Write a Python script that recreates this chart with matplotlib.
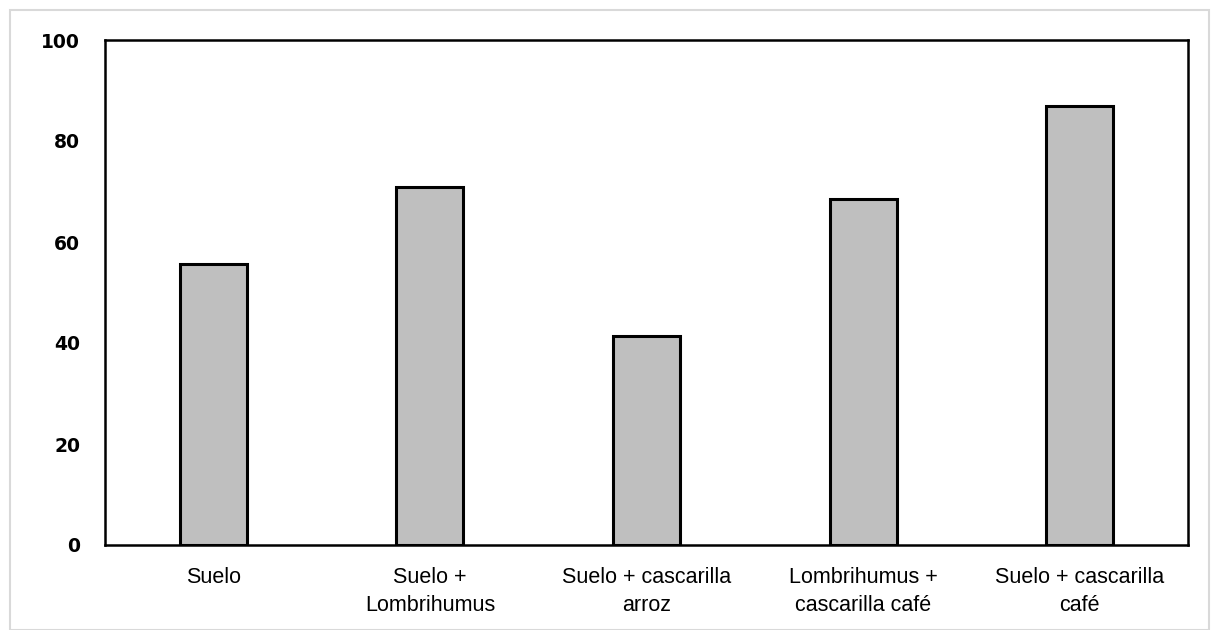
import matplotlib
matplotlib.use("Agg")
import matplotlib.pyplot as plt
from matplotlib.patches import Rectangle

categories = ["Suelo", "Suelo +\nLombrihumus", "Suelo + cascarilla\narroz",
              "Lombrihumus +\ncascarilla café", "Suelo + cascarilla\ncafé"]
values = [55.7, 70.9, 41.3, 68.6, 86.9]
yticks = [0, 20, 40, 60, 80, 100]

fig = plt.figure(figsize=(12.11, 6.30), dpi=100)
fig.patches.append(Rectangle((10/1211, 0), 1 - 10/1211 - 2/1211, 1 - 10/630,
                             transform=fig.transFigure, fill=False,
                             edgecolor="#d9d9d9", linewidth=1.5))
ax = fig.add_axes([105/1211, 1 - 545/630, (1188 - 105)/1211, (545 - 40)/630])

x = list(range(len(categories)))
ax.bar(x, values, width=0.31, color="#bfbfbf", edgecolor="black", linewidth=2.2)
ax.set_xlim(-0.5, len(categories) - 0.5)
ax.set_ylim(0, 100)
ax.set_yticks(yticks)
ax.set_yticklabels([str(v) for v in yticks], fontsize=13.5, fontweight="bold",
                   family=["DejaVu Sans"])
ax.set_xticks(x)
ax.set_xticklabels(categories, fontsize=15.5,
                   family=["Liberation Sans Narrow", "Liberation Sans", "DejaVu Sans"],
                   linespacing=1.45)
ax.tick_params(axis="both", length=0)
ax.tick_params(axis="y", pad=18)
ax.tick_params(axis="x", pad=16)
for s in ax.spines.values():
    s.set_linewidth(1.8)
    s.set_color("black")

fig.savefig("out.png", dpi=100)
